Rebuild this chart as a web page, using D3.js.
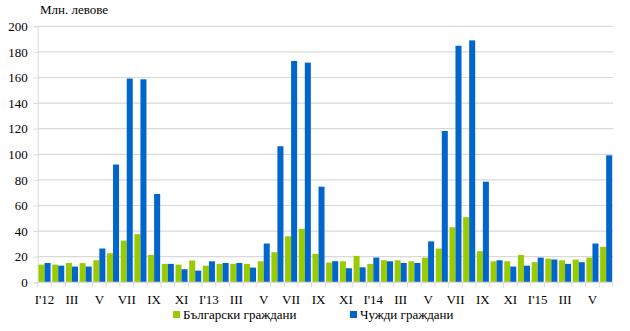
<!DOCTYPE html>
<html><head><meta charset="utf-8">
<script src="https://cdn.jsdelivr.net/npm/d3@7"></script>
<style>body{margin:0;background:#fff}svg{display:block}svg text{font-family:"Liberation Serif","DejaVu Serif","Times New Roman",serif;}</style>
</head><body>
<svg id="c" width="630" height="331"></svg>
<script>
const months = d3.range(42).map(i => i);
const tickLabels = ["I'12","III","V","VII","IX","XI","I'13","III","V","VII","IX","XI","I'14","III","V","VII","IX","XI","I'15","III","V"];
const bulgarian = [13.8,13.8,15.1,15.0,17.2,22.7,32.6,37.6,21.4,14.4,13.8,17.0,
  13.0,14.4,14.4,14.4,16.4,23.5,36.0,41.8,22.2,15.4,16.4,20.6,
  14.4,17.2,17.2,16.4,19.3,26.4,43.0,50.9,24.3,16.4,16.4,21.4,
  15.7,18.5,17.2,17.8,19.3,27.7];
const foreign = [15.1,13.0,12.3,12.3,26.4,92.0,159.2,158.6,69.0,14.4,10.2,9.1,
  16.4,15.1,15.1,11.5,30.3,106.3,172.9,171.6,74.7,16.5,11.0,11.7,
  19.3,16.4,15.1,15.1,32.0,118.2,184.8,189.0,78.6,17.2,12.3,13.0,
  19.3,17.8,14.4,15.7,30.3,99.2];
const seriesNames = ["Български граждани","Чужди граждани"];
const colors = ["#99cc00","#0066cc"];
const yTicks = d3.range(0,201,20);

const svg = d3.select("#c");
const m = {l:37.7, r:613, t:26.3, b:282.3};
const x = d3.scaleBand().domain(months).range([m.l,m.r]).paddingInner(0.12).paddingOuter(0.06);
const xs = d3.scaleBand().domain([0,1]).range([0,x.bandwidth()]);
const y = d3.scaleLinear().domain([0,200]).range([m.b,m.t]);

// gridlines
svg.append("g").selectAll("line").data(yTicks.slice(1)).join("line")
  .attr("x1",m.l).attr("x2",m.r).attr("y1",d=>y(d)).attr("y2",d=>y(d))
  .attr("stroke","#d9d9d9").attr("stroke-width",1.2);

// y axis
const ya = svg.append("g").attr("transform",`translate(${m.l},0)`)
  .call(d3.axisLeft(y).tickValues(yTicks).tickSize(4).tickPadding(6));
ya.select(".domain").attr("stroke","#d9d9d9");
ya.selectAll(".tick line").attr("stroke","#d9d9d9");
ya.selectAll("text").attr("font-family",null).attr("font-size",13).attr("fill","#000");
ya.attr("font-family",null);

// bars
const groups = svg.append("g").selectAll("g").data(months).join("g")
  .attr("transform",d=>`translate(${x(d)},0)`);
groups.selectAll("rect").data(i=>[bulgarian[i],foreign[i]]).join("rect")
  .attr("x",(d,j)=>xs(j)).attr("width",xs.bandwidth())
  .attr("y",d=>y(d)).attr("height",d=>y(0)-y(d))
  .attr("fill",(d,j)=>colors[j]);

// x axis
const step = (m.r-m.l)/months.length;
const xa = svg.append("g").attr("transform",`translate(0,${m.b})`);
xa.append("line").attr("x1",m.l).attr("x2",m.r).attr("stroke","#d9d9d9").attr("stroke-width",1.2);
xa.selectAll(".tk").data(d3.range(months.length+1)).join("line").attr("class","tk")
  .attr("x1",i=>m.l+i*step).attr("x2",i=>m.l+i*step).attr("y1",0).attr("y2",5)
  .attr("stroke","#d9d9d9");
xa.selectAll("text").data(tickLabels).join("text")
  .attr("x",(d,i)=>x(i*2)+x.bandwidth()/2).attr("y",22)
  .attr("text-anchor","middle").attr("font-size",13)
  .text(d=>d);

// title
svg.append("text").attr("x",40).attr("y",14).attr("font-size",13).text("Млн. левове");

// legend
const leg = [{x:173,t:seriesNames[0],c:colors[0]},{x:350,t:seriesNames[1],c:colors[1]}];
const lg = svg.append("g").selectAll("g").data(leg).join("g").attr("transform",d=>`translate(${d.x},0)`);
lg.append("rect").attr("x",0).attr("y",311).attr("width",7).attr("height",7).attr("fill",d=>d.c);
lg.append("text").attr("x",10).attr("y",319).attr("font-size",13).text(d=>d.t);
</script>
</body></html>
